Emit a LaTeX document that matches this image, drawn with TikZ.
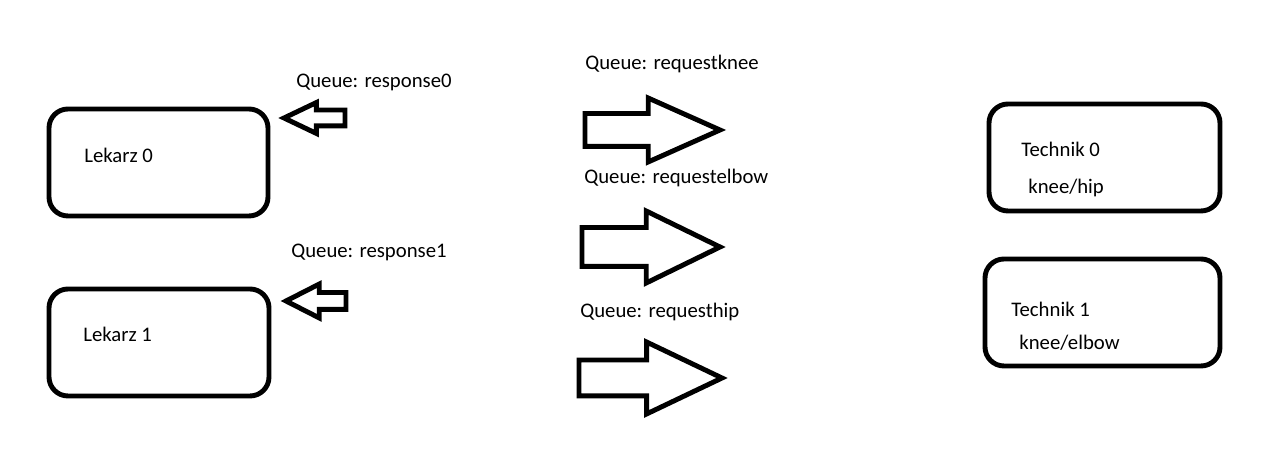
\documentclass[tikz,border=0pt]{standalone}
\usepackage{fontspec}
\setmainfont{Carlito}
\usetikzlibrary{shapes.arrows}

\begin{document}
\begin{tikzpicture}[
  blok/.style={draw,line width=2.8pt,rounded corners=0.38cm,minimum height=2.14cm},
  napis/.style={anchor=base west,inner sep=0pt,font=\fontsize{11.8}{14}\selectfont},
  strz/.style={single arrow,draw,line width=2.8pt,anchor=tip,outer sep=0pt,
               inner xsep=0pt,single arrow head indent=0pt}
]
\useasboundingbox (0,0) rectangle (25.58,9.42);

% lekarze i technicy
\node[blok,minimum width=4.38cm] (l0) at (3.17,6.17)  {};
\node[blok,minimum width=4.40cm] (l1) at (3.18,2.57)  {};
\node[blok,minimum width=4.62cm] (t0) at (22.09,6.27) {};
\node[blok,minimum width=4.70cm] (t1) at (22.05,3.17) {};

\node[napis] (nl0) at (1.68,6.16)  {Lekarz 0};
\node[napis] (nl1) at (1.66,2.58)  {Lekarz 1};
\node[napis] (nt0) at (20.42,6.28) {Technik 0};
\node[napis] (nt0b) at (20.56,5.54) {knee/hip};
\node[napis] (nt1) at (20.22,3.08) {Technik 1};
\node[napis] (nt1b) at (20.38,2.42) {knee/elbow};

% kolejki
\node[strz,minimum height=2.70cm,inner ysep=0.28cm,single arrow head extend=0.31cm,
      single arrow tip angle=48] (rk) at (14.40,6.82) {};
\node[strz,minimum height=2.76cm,inner ysep=0.34cm,single arrow head extend=0.33cm,
      single arrow tip angle=52] (re) at (14.40,4.48) {};
\node[strz,minimum height=2.86cm,inner ysep=0.31cm,single arrow head extend=0.36cm,
      single arrow tip angle=51] (rh) at (14.44,1.86) {};
\node[strz,shape border rotate=180,minimum height=1.22cm,inner ysep=0.11cm,
      single arrow head extend=0.15cm,single arrow tip angle=51] (r0) at (5.68,7.06) {};
\node[strz,shape border rotate=180,minimum height=1.20cm,inner ysep=0.12cm,
      single arrow head extend=0.17cm,single arrow tip angle=54] (r1) at (5.72,3.40) {};

\node[napis] (qr0) at (5.92,7.66)  {Queue: response0};
\node[napis] (qrk) at (11.70,8.02) {Queue: requestknee};
\node[napis] (qre) at (11.68,5.74) {Queue: requestelbow};
\node[napis] (qr1) at (5.82,4.26)  {Queue: response1};
\node[napis] (qrh) at (11.60,3.06) {Queue: requesthip};
\end{tikzpicture}
\end{document}
